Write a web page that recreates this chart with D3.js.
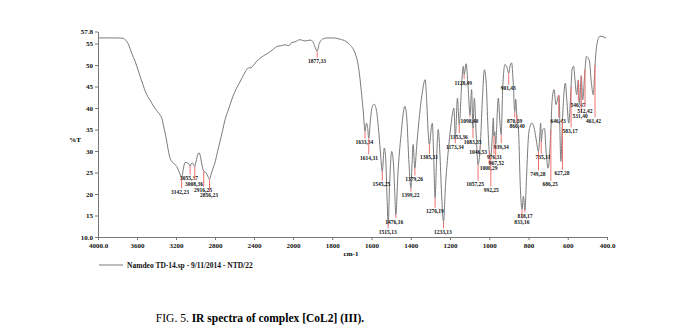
<!DOCTYPE html>
<html><head><meta charset="utf-8">
<script src="https://cdn.jsdelivr.net/npm/d3@7"></script>
<style>
body{margin:0;background:#fff;}
svg{display:block;}
text{font-family:"Liberation Serif","Times New Roman",serif;}
</style></head>
<body>
<svg id="c" width="693" height="334"></svg>
<script>
// Spectrum: wavenumber (cm-1) and %T
const wavenumbers = [4000,3900,3800,3740,3710,3692,3650,3620,3580,3552,3500,3460,3432,3390,3364,3340,3330,3310,3295,3262,3228,3193,3165,3142,3125,3108,3085,3070,3055,3042,3030,3015,3008,2995,2975,2964,2950,2935,2916,2900,2880,2856,2840,2820,2800,2775,2749,2720,2697,2660,2629,2600,2560,2520,2490,2460,2430,2410,2380,2356,2300,2253,2200,2167,2120,2082,2060,2040,2020,2000,
1990,1964,1940,1913,1900,1890,1877,1866,1850,1828,1790,1760,1730,1710,1684,1670,1659,1650,1642,1633,1626,1620,1614,1605,1596,1587,1575,1565,1555,1545,1535,1528,1520,1515,1508,1497,1488,1482,1476,1465,1450,1430,1420,1410,1399,1394,1388,1379,1370,1355,1340,1327,1318,1312,1305,1295,1290,1284,1276,1268,1260,1252,1243,1233,1223,1210,1195,1180,1173,1162,1153,1140,1132,1128,1118,1108,1098,1090,1083,1076,1066,1057,1046,1035,1025,1015,1008,1000,992,985,979,976,972,967,958,954,946,939,932,920,910,901,893,886,878,870,865,860,850,842,833,826,818,810,800,790,784,772,762,749,742,738,735,728,718,712,700,686,680,670,660,646,643,640,635,627,620,612,605,595,583,578,570,563,555,546,540,531,524,512,505,490,480,470,461,452,436,415,405,400];
const transmittance = [56.3,56.3,56.3,56.2,55.6,55.0,52.5,50.9,48.2,46.3,43.1,41.6,40.5,39.2,38.4,37.2,36.1,34.0,32.2,28.4,27.2,26.4,25.0,23.8,25.8,27.3,27.3,27.0,26.5,27.1,27.2,26.6,26.4,27.5,29.3,29.6,28.8,27.0,25.3,25.1,24.5,23.4,24.6,26.0,27.3,29.8,32.2,35.0,37.3,39.8,41.9,43.6,45.4,47.1,48.4,49.3,49.4,49.8,50.7,51.2,52.2,52.8,53.7,54.3,54.5,54.7,54.6,54.5,55.1,55.3,
55.4,55.9,55.6,55.8,55.5,54.5,53.2,55.0,56.0,56.3,56.3,56.0,55.5,54.7,52.8,50.5,47.0,43.0,39.2,34.6,36.5,35.5,33.0,37.5,40.3,40.9,39.5,35.5,30.0,25.3,30.7,28.5,18.0,12.9,22.0,29.9,27.0,21.0,15.2,25.0,33.5,40.4,37.5,28.0,21.4,26.5,31.5,26.0,31.0,38.5,44.0,46.6,41.0,35.0,31.5,35.5,36.5,30.0,19.1,28.5,35.0,30.0,20.0,13.6,22.0,29.5,36.0,40.0,33.0,42.3,36.1,46.0,49.7,47.8,50.3,45.0,38.4,44.3,35.3,42.3,33.0,26.8,31.0,42.0,48.9,45.5,37.0,30.0,28.8,33.0,37.7,33.5,34.5,31.5,40.0,42.3,37.0,33.8,44.0,50.1,49.5,48.1,50.0,50.5,46.0,39.2,42.0,38.4,34.0,22.0,16.5,19.5,16.3,24.0,33.5,36.0,36.5,35.5,33.0,29.9,34.0,36.5,32.2,35.0,35.2,31.0,26.0,35.0,41.5,44.3,40.8,43.0,42.5,35.0,27.6,37.0,43.0,45.8,42.0,36.5,45.0,49.0,49.7,46.5,43.1,46.5,40.8,47.5,41.9,49.0,52.0,51.0,46.0,43.1,50.0,54.7,56.7,56.5,56.3];

// Peak annotations
const peakWn    = [3142,3055,3008,2916,2856,1877,1633,1614,1545,1515,1476,1399,1379,1305,1276,1233,1173,1153,1128,1098,1083,1046,1057,1000,992,976,967,939,901,870,860,833,818,749,735,686,646,627,583,546,531,512,461];
const peakText  = ["3142,23","3055,37","3008,36","2916,25","2856,23","1877,33","1633,34","1614,31","1545,25","1515,13","1476,16","1399,22","1379,26","1305,31","1276,19","1233,13","1173,34","1153,36","1128,49","1098,40","1083,35","1046,53","1057,25","1000,29","992,25","976,31","967,52","939,34","901,43","870,39","860,40","833,16","818,17","749,28","735,31","686,25","646,43","627,28","583,17","546,47","531,40","512,42","461,42"];
const labelWn   = [3159,3067,3015,2923,2862,1878,1636,1613,1550,1517,1484,1401,1383,1307,1277,1236,1175,1154,1132,1101,1085,1057,1072,1003,990,973,964,939,903,871,858,834,818,752,726,690,649,629,588,548,537,513,469];
const labelT    = [20.5,23.7,22.4,20.9,19.8,50.9,32.1,28.4,22.3,11.2,13.6,19.7,23.5,28.5,16.0,11.2,31.0,33.3,45.9,37.0,32.2,29.8,22.3,26.0,20.9,28.5,27.3,31.0,44.6,37.0,35.8,13.5,14.9,24.7,28.5,22.3,37.0,24.8,34.7,40.7,38.1,39.4,37.0];

const xTicks = [4000,3600,3200,2800,2400,2000,1800,1600,1400,1200,1000,800,600,400];
const yTicks = [10,15,20,25,30,35,40,45,50,55,57.8];
const legendText = "Namdeo TD-14.sp - 9/11/2014 - NTD/22";

const svg = d3.select("#c");
const x = d3.scaleLinear().domain([4000,2000,400]).range([98,293,607]);
const y = d3.scaleLinear().domain([10,57.8]).range([237,31.5]);

const xAxis = d3.axisBottom(x).tickValues(xTicks).tickSize(3).tickSizeOuter(0).tickPadding(3)
  .tickFormat(d => (d===4000||d===400) ? d.toFixed(1) : String(d));
const yAxis = d3.axisLeft(y).tickValues(yTicks).tickSize(3).tickSizeOuter(0).tickPadding(2)
  .tickFormat(d => d===10 ? "10.0" : (d===57.8 ? "57.8" : String(d)));

const gx = svg.append("g").attr("transform","translate(0,237)").call(xAxis);
const gy = svg.append("g").attr("transform","translate(98,0)").call(yAxis);
[gx,gy].forEach(g=>{
  g.select(".domain").attr("stroke","#777").attr("stroke-width",1);
  g.selectAll(".tick line").attr("stroke","#777");
  g.selectAll(".tick text").attr("fill","#111").style("font-size","7px").style("font-weight","bold")
   .style("font-family",'"Liberation Serif",serif');
});

// curve
const pts = wavenumbers.map((w,i)=>[w,transmittance[i]]);
svg.append("path").datum(pts)
  .attr("fill","none").attr("stroke","#7a7a7a").attr("stroke-width",1)
  .attr("d", d3.line().x(d=>x(d[0])).y(d=>y(d[1])).curve(d3.curveMonotoneX));

// interpolation helper for marker tops
function tAt(w){
  for(let i=0;i<wavenumbers.length-1;i++){
    const a=wavenumbers[i], b=wavenumbers[i+1];
    if(w<=a && w>=b){ const t=(a-w)/(a-b); return transmittance[i]+(transmittance[i+1]-transmittance[i])*t; }
  }
  return transmittance[transmittance.length-1];
}

const pk = svg.append("g");
peakWn.forEach((w,i)=>{
  const top = y(tAt(w));
  const bot = y(labelT[i]) - 3.5;
  if(bot>top) pk.append("line").attr("x1",x(w)).attr("x2",x(w)).attr("y1",top).attr("y2",bot)
     .attr("stroke","#f07070").attr("stroke-width",1);
  pk.append("text").attr("x",x(labelWn[i])).attr("y",y(labelT[i])+2)
    .attr("text-anchor","middle").style("font-size","5.5px").style("font-weight","bold")
    .attr("fill","#111").text(peakText[i]);
});

// axis titles
svg.append("text").attr("x",75).attr("y",142).attr("text-anchor","middle")
  .style("font-size","7px").style("font-weight","bold").text("%T");
svg.append("text").attr("x",351).attr("y",255.5).attr("text-anchor","middle")
  .style("font-size","7px").style("font-weight","bold").text("cm-1");

// legend
svg.append("line").attr("x1",99).attr("x2",123).attr("y1",265).attr("y2",265)
  .attr("stroke","#7a7a7a").attr("stroke-width",1);
svg.append("text").attr("x",127).attr("y",267.5)
  .style("font-size","7.5px").style("font-weight","bold").attr("fill","#111").text(legendText);

// caption
const cap = svg.append("text").attr("x",260).attr("y",322).attr("text-anchor","middle")
  .style("font-size","11.5px").attr("fill","#000");
cap.append("tspan").text("FIG. 5. ");
cap.append("tspan").style("font-weight","bold").text("IR spectra of complex [CoL2] (III).");
</script>
</body></html>
